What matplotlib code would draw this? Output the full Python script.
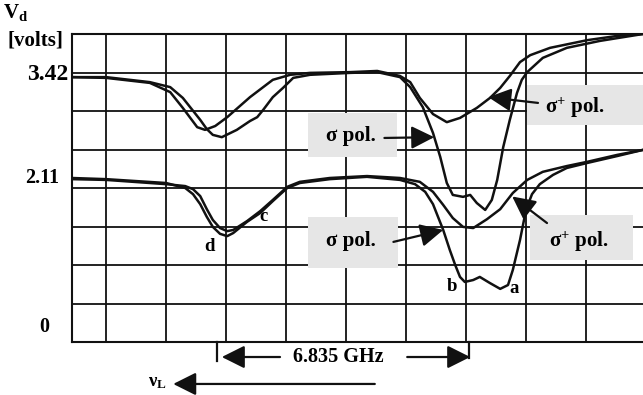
import matplotlib.pyplot as plt
from matplotlib.patches import Rectangle

plt.rcParams['font.family'] = ['Liberation Serif', 'DejaVu Serif']
plt.rcParams['font.weight'] = 'bold'
plt.rcParams['mathtext.default'] = 'regular'

# traces in grid divisions (x: horizontal divisions, y: vertical divisions)
top_sp_x = [-0.57, 0.0, 0.73, 1.07, 1.28, 1.52, 1.65, 1.82, 2.02, 2.40, 2.78, 3.07, 3.40, 4.07, 4.52,
            4.90, 5.07, 5.23, 5.45, 5.68, 5.90, 6.18, 6.40, 6.57, 6.73, 6.90, 7.07, 7.40, 8.02, 8.52, 8.95]
top_sp_y = [6.88, 6.86, 6.73, 6.49, 6.08, 5.58, 5.51, 5.61, 5.84, 6.36, 6.81, 6.94, 6.99, 7.01, 7.04,
            6.91, 6.75, 6.34, 5.92, 5.71, 5.82, 6.08, 6.34, 6.60, 6.91, 7.27, 7.45, 7.64, 7.84, 7.95, 8.0]

top_s_x = [-0.57, 0.0, 0.73, 1.07, 1.28, 1.57, 1.68, 1.78, 1.93, 2.18, 2.40, 2.52, 2.62, 2.78, 2.95,
           3.12, 3.40, 4.07, 4.52, 4.90, 5.07, 5.28, 5.45, 5.57, 5.68, 5.78, 5.95, 6.07, 6.18, 6.32,
           6.43, 6.52, 6.62, 6.73, 6.85, 6.93, 7.02, 7.28, 7.68, 8.23, 8.95]
top_s_y = [6.88, 6.88, 6.75, 6.62, 6.34, 5.77, 5.53, 5.38, 5.32, 5.51, 5.74, 5.84, 6.03, 6.36, 6.60,
           6.86, 6.94, 6.99, 7.01, 6.88, 6.62, 6.10, 5.43, 4.81, 4.13, 3.82, 3.77, 3.82, 3.61, 3.43,
           3.69, 4.21, 5.06, 5.77, 6.47, 6.81, 7.01, 7.38, 7.64, 7.82, 8.0]

bot_s_x = [-0.57, 0.0, 1.0, 1.32, 1.45, 1.57, 1.68, 1.78, 1.90, 2.02, 2.12, 2.35, 2.57, 2.78, 3.02,
           3.23, 3.73, 4.35, 4.90, 5.15, 5.32, 5.45, 5.62, 5.73, 5.82, 5.90, 5.98, 6.12, 6.23, 6.40,
           6.57, 6.70, 6.78, 6.90, 7.0, 7.10, 7.23, 7.45, 7.68, 8.02, 8.52, 8.95]
bot_s_y = [4.26, 4.23, 4.13, 4.0, 3.84, 3.58, 3.25, 2.99, 2.81, 2.75, 2.83, 3.12, 3.35, 3.66, 4.0,
           4.13, 4.23, 4.29, 4.21, 4.10, 3.90, 3.58, 2.91, 2.39, 2.0, 1.69, 1.56, 1.61, 1.69, 1.53,
           1.38, 1.48, 1.87, 2.65, 3.43, 3.84, 4.10, 4.34, 4.52, 4.65, 4.83, 4.99]

bot_sp_x = [-0.57, 0.0, 1.0, 1.32, 1.45, 1.57, 1.68, 1.78, 1.90, 2.02, 2.12, 2.35, 2.57, 2.78, 3.02,
            3.23, 3.73, 4.35, 4.90, 5.23, 5.45, 5.62, 5.78, 5.95, 6.12, 6.35, 6.57, 6.78, 7.02, 7.28,
            7.68, 8.02, 8.52, 8.95]
bot_sp_y = [4.23, 4.21, 4.10, 4.05, 3.97, 3.79, 3.45, 3.17, 2.96, 2.88, 2.91, 3.14, 3.40, 3.69, 4.03,
            4.16, 4.26, 4.31, 4.26, 4.16, 3.90, 3.56, 3.22, 2.99, 2.96, 3.19, 3.45, 3.87, 4.21, 4.42,
            4.57, 4.68, 4.86, 4.99]

ytick_pos = [6.94, 4.26, 0.39]
ytick_labels = ['3.42', '2.11', '0']

fig = plt.figure(figsize=(6.43, 3.95), dpi=100)
ax = fig.add_axes([72 / 643, 53 / 395, 571 / 643, 308 / 395])
ax.set_xlim(-0.567, 8.95)
ax.set_ylim(0, 8)
ax.set_xticks([])
ax.set_yticks([])
ax.spines['right'].set_visible(False)
for s in ['left', 'top', 'bottom']:
    ax.spines[s].set_linewidth(1.5)
    ax.spines[s].set_color('#111111')

for gx in range(0, 9):
    ax.axvline(gx, color='#111111', lw=1.3, zorder=1)
for gy in range(1, 8):
    ax.axhline(gy, color='#111111', lw=1.3, zorder=1)

# grey label boxes
boxes = [(3.37, 4.81, 1.48, 1.14), (7.02, 5.64, 1.93, 1.04),
         (3.37, 1.92, 1.50, 1.33), (7.07, 2.13, 1.71, 1.17)]
for bx, by, bw, bh in boxes:
    ax.add_patch(Rectangle((bx, by), bw, bh, facecolor='#e6e6e6', edgecolor='none',
                           zorder=2, clip_on=False))

for xs, ys in [(top_sp_x, top_sp_y), (top_s_x, top_s_y), (bot_s_x, bot_s_y), (bot_sp_x, bot_sp_y)]:
    ax.plot(xs, ys, color='#111111', lw=1.8, solid_joinstyle='round', zorder=3)

head = '-|>,head_length=0.7,head_width=0.35'
aprops = dict(arrowstyle=head, mutation_scale=20, lw=1.6, color='#111111', shrinkA=0, shrinkB=0)

ax.text(4.08, 5.35, 'σ pol.', fontsize=15, ha='center', va='center', zorder=4)
ax.annotate('', xy=(5.47, 5.32), xytext=(4.64, 5.30), arrowprops=aprops, zorder=4)
ax.text(7.82, 6.08, 'σ$^{+}$ pol.', fontsize=15, ha='center', va='center', zorder=4)
ax.annotate('', xy=(6.37, 6.36), xytext=(7.20, 6.21), arrowprops=aprops, zorder=4)
ax.text(4.08, 2.62, 'σ pol.', fontsize=15, ha='center', va='center', zorder=4)
ax.annotate('', xy=(5.62, 2.91), xytext=(4.79, 2.60), arrowprops=aprops, zorder=4)
ax.text(7.88, 2.60, 'σ$^{+}$ pol.', fontsize=15, ha='center', va='center', zorder=4)
ax.annotate('', xy=(6.77, 3.78), xytext=(7.35, 3.09), arrowprops=aprops, zorder=4)

for lx, ly, lt in [(1.73, 2.47, 'd'), (2.63, 3.25, 'c'), (5.77, 1.43, 'b'), (6.80, 1.38, 'a')]:
    ax.text(lx, ly, lt, fontsize=13.5, ha='center', va='center', zorder=4)

# y labels
ax.text(-0.98, ytick_pos[0], ytick_labels[0], fontsize=17, ha='center', va='center', clip_on=False)
ax.text(-1.07, ytick_pos[1], ytick_labels[1], fontsize=14.5, ha='center', va='center', clip_on=False)
ax.text(-1.03, ytick_pos[2], ytick_labels[2], fontsize=14.5, ha='center', va='center', clip_on=False)
ax.text(-1.50, 8.57, 'V$_{d}$', fontsize=15, ha='center', va='center', clip_on=False)
ax.text(-1.18, 7.84, '[volts]', fontsize=15, ha='center', va='center', clip_on=False)

# frequency spacing marker below the grid
ax.plot([1.85, 1.85], [0, -0.49], color='#111111', lw=1.6, clip_on=False)
ax.plot([6.05, 6.05], [0, -0.42], color='#111111', lw=1.6, clip_on=False)
ax.annotate('', xy=(1.93, -0.39), xytext=(2.90, -0.39), arrowprops=aprops, annotation_clip=False)
ax.annotate('', xy=(6.07, -0.39), xytext=(5.02, -0.39), arrowprops=aprops, annotation_clip=False)
ax.text(3.87, -0.39, '6.835 GHz', fontsize=14.5, ha='center', va='center', clip_on=False)

ax.annotate('', xy=(1.12, -1.09), xytext=(4.48, -1.09), arrowprops=aprops, annotation_clip=False)
ax.text(0.85, -1.06, 'ν$_{L}$', fontsize=13.5, ha='center', va='center', clip_on=False)

fig.savefig('out.png', dpi=100)
